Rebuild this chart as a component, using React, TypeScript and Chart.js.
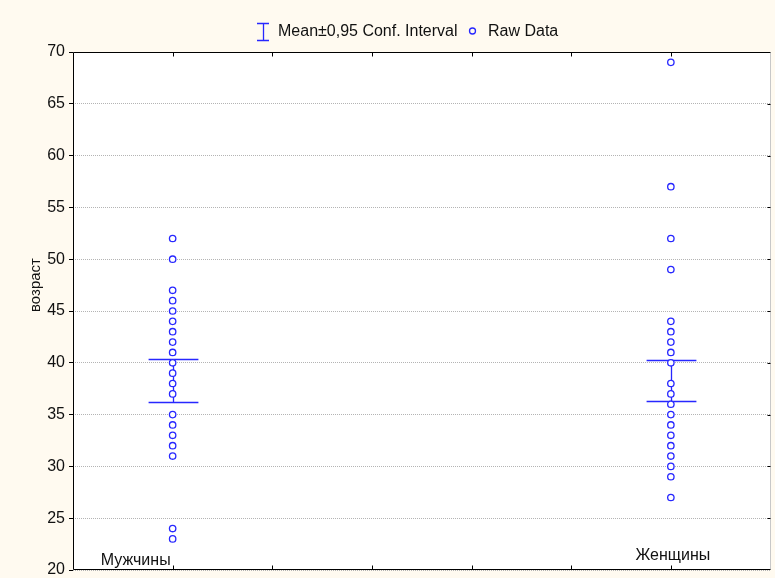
import { useEffect, useRef } from 'react';
import { Chart, registerables } from 'chart.js';

Chart.register(...registerables);

// Group labels and their positions along the horizontal axis
const groups = ['Мужчины', 'Женщины'];
const groupX = [1, 6];

// Raw ages per group
const menAges = [52, 50, 47, 46, 45, 44, 43, 42, 41, 40, 39, 38, 37, 35, 34, 33, 32, 31, 24, 23];
const womenAges = [69, 57, 52, 49, 44, 43, 42, 41, 40, 38, 37, 36, 35, 34, 33, 32, 31, 30, 29, 27];

// Mean and 95% confidence interval per group
const means = [38.3, 38.3];
const ciLower = [36.2, 36.3];
const ciUpper = [40.4, 40.3];

const yMin = 20;
const yMax = 70;
const yStep = 5;
const xMin = 0;
const xMax = 7;

const BLUE = '#2727ff';
const CREAM = '#fffaf0';
const FONT = '"Liberation Sans", Arial, sans-serif';
const legendLabels = ['Mean±0,95 Conf. Interval', 'Raw Data'];
const yTitle = 'возраст';

const decorPlugin = {
  id: 'decor',
  beforeDraw(chart: any) {
    const { ctx, chartArea: a, width, height } = chart;
    ctx.save();
    ctx.fillStyle = CREAM;
    ctx.fillRect(0, 0, width, height);
    ctx.fillStyle = '#ffffff';
    ctx.fillRect(a.left, a.top, a.right - a.left, a.bottom - a.top);
    ctx.restore();
  },
  beforeDatasetsDraw(chart: any) {
    const { ctx } = chart;
    const xs = chart.scales.x;
    const ys = chart.scales.y;
    ctx.save();
    ctx.strokeStyle = BLUE;
    ctx.lineWidth = 1.3;
    groupX.forEach((gx, i) => {
      const cx = Math.round(xs.getPixelForValue(gx)) + 0.5;
      const hw = xs.getPixelForValue(gx + 0.25) - xs.getPixelForValue(gx);
      const yl = Math.round(ys.getPixelForValue(ciLower[i])) + 0.5;
      const yu = Math.round(ys.getPixelForValue(ciUpper[i])) + 0.5;
      ctx.beginPath();
      ctx.moveTo(cx - hw, yu);
      ctx.lineTo(cx + hw, yu);
      ctx.moveTo(cx - hw, yl);
      ctx.lineTo(cx + hw, yl);
      ctx.moveTo(cx, yu);
      ctx.lineTo(cx, yl);
      ctx.stroke();
    });
    ctx.restore();
  },
  afterDraw(chart: any) {
    const { ctx, chartArea: a } = chart;
    const xs = chart.scales.x;
    const ys = chart.scales.y;
    const L = Math.round(a.left) + 0.5;
    const R = Math.round(a.right) - 0.5;
    const T = Math.round(a.top) + 0.5;
    const B = Math.round(a.bottom) - 0.5;
    ctx.save();
    ctx.lineWidth = 1;
    // right edge is a light rule
    ctx.strokeStyle = '#c8c8c8';
    ctx.beginPath();
    ctx.moveTo(R, T);
    ctx.lineTo(R, B);
    ctx.stroke();

    ctx.strokeStyle = '#000';
    ctx.beginPath();
    ctx.moveTo(R, T);
    ctx.lineTo(L, T);
    ctx.lineTo(L, B);
    ctx.lineTo(R, B);
    // inward ticks on top and bottom edges
    for (let v = xMin + 1; v < xMax; v++) {
      const px = Math.round(xs.getPixelForValue(v)) + 0.5;
      ctx.moveTo(px, T);
      ctx.lineTo(px, T + 4);
      ctx.moveTo(px, B);
      ctx.lineTo(px, B - 4);
    }
    // short ticks on the right edge
    for (let v = yMin + yStep; v < yMax; v += yStep) {
      const py = Math.round(ys.getPixelForValue(v)) + 0.5;
      ctx.moveTo(R, py);
      ctx.lineTo(R - 3, py);
    }
    ctx.stroke();

    // group labels inside the plot
    ctx.fillStyle = '#111';
    ctx.font = `16px ${FONT}`;
    ctx.textBaseline = 'alphabetic';
    ctx.textAlign = 'right';
    ctx.fillText(groups[0], xs.getPixelForValue(groupX[0]) - 2, a.bottom - 5);
    ctx.textAlign = 'center';
    ctx.fillText(groups[1], xs.getPixelForValue(groupX[1]) + 2, a.bottom - 10);

    // vertical axis title
    ctx.save();
    ctx.translate(36, a.top + 233);
    ctx.rotate(-Math.PI / 2);
    ctx.font = `15px ${FONT}`;
    ctx.textAlign = 'center';
    ctx.textBaseline = 'middle';
    ctx.fillText(yTitle, 0, 0);
    ctx.restore();

    // legend
    const ly = 31;
    ctx.strokeStyle = BLUE;
    ctx.lineWidth = 1.3;
    ctx.beginPath();
    ctx.moveTo(257, 23.5);
    ctx.lineTo(269, 23.5);
    ctx.moveTo(257, 40.5);
    ctx.lineTo(269, 40.5);
    ctx.moveTo(263.5, 23.5);
    ctx.lineTo(263.5, 40.5);
    ctx.stroke();
    ctx.beginPath();
    ctx.arc(472.5, ly, 3, 0, Math.PI * 2);
    ctx.stroke();
    ctx.fillStyle = '#111';
    ctx.font = `16px ${FONT}`;
    ctx.textAlign = 'left';
    ctx.textBaseline = 'middle';
    ctx.fillText(legendLabels[0], 278, ly + 1);
    ctx.fillText(legendLabels[1], 488, ly + 1);
    ctx.restore();
  },
};

export default function App() {
  const ref = useRef<HTMLCanvasElement | null>(null);

  useEffect(() => {
    document.body.style.margin = '0';
    if (!ref.current) return;
    const rawPoints = [
      ...menAges.map((v) => ({ x: groupX[0], y: v })),
      ...womenAges.map((v) => ({ x: groupX[1], y: v })),
    ];
    const meanPoints = means.map((v, i) => ({ x: groupX[i], y: v }));
    const chart = new Chart(ref.current, {
      type: 'scatter',
      data: {
        datasets: [
          {
            label: legendLabels[0],
            data: meanPoints,
            pointRadius: 0,
            pointHoverRadius: 0,
            borderColor: BLUE,
            backgroundColor: BLUE,
          },
          {
            label: legendLabels[1],
            data: rawPoints,
            pointStyle: 'circle',
            pointRadius: 3.2,
            pointHoverRadius: 3.2,
            borderWidth: 1.3,
            borderColor: BLUE,
            backgroundColor: '#ffffff',
          },
        ],
      },
      options: {
        responsive: false,
        animation: false,
        layout: { padding: { top: 52, right: 1, bottom: 8, left: 0 } },
        plugins: {
          legend: { display: false },
          tooltip: { enabled: false },
          title: { display: false },
        },
        scales: {
          x: {
            type: 'linear',
            min: xMin,
            max: xMax,
            display: false,
          },
          y: {
            type: 'linear',
            min: yMin,
            max: yMax,
            afterFit: (s: any) => {
              s.width = 73;
              s.paddingTop = 0;
              s.paddingBottom = 0;
            },
            ticks: {
              stepSize: yStep,
              padding: 4,
              color: '#111',
              font: { family: FONT, size: 16 },
            },
            grid: {
              color: '#b4b4b4',
              lineWidth: 1,
              drawTicks: true,
              tickLength: 4,
              tickColor: '#000',
              tickBorderDash: [],
            },
            border: { display: false, dash: [1, 1] },
          },
        },
      },
      plugins: [decorPlugin],
    });
    return () => chart.destroy();
  }, []);

  return (
    <div style={{ width: 775, height: 578 }}>
      <canvas ref={ref} width={775} height={578} />
    </div>
  );
}
